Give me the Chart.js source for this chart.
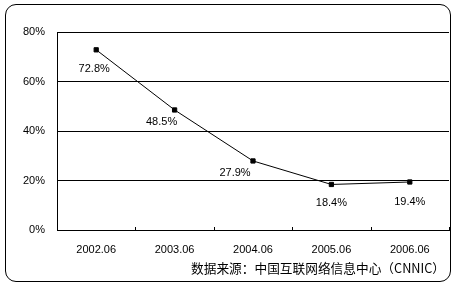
<!DOCTYPE html>
<html>
<head>
<meta charset="utf-8">
<script src="https://cdn.jsdelivr.net/npm/chart.js@4.4.0/dist/chart.umd.min.js"></script>
<style>
    body { margin: 0; background: #fff; }
    #wrap { position: relative; width: 457px; height: 288px; }
    #frame {
        position: absolute; left: 5px; top: 4px; width: 444px; height: 276px;
        border: 1px solid #000; border-radius: 11px;
    }
    #chart { position: absolute; left: 0; top: 0; }
    #source {
        position: absolute; right: 12px; top: 258px;
        font: 12.7px "Noto Sans CJK SC", sans-serif; color: #000; white-space: nowrap;
    }
</style>
</head>
<body>
<div id="wrap">
    <div id="frame"></div>
    <canvas id="chart" width="457" height="288"></canvas>
    <div id="source">数据来源：中国互联网络信息中心（CNNIC）</div>
</div>
<script>
const categories = ['2002.06', '2003.06', '2004.06', '2005.06', '2006.06'];
const shares = [72.8, 48.5, 27.9, 18.4, 19.4];
const yTicks = [0, 20, 40, 60, 80];

// label placement relative to each point (Excel put them a bit unevenly)
const labelShift = [[-2, 19], [-13, 12], [-18, 12], [0, 19], [0, 20]];

const tickFont = { family: 'Liberation Sans', size: 11 };

const valueLabels = {
    id: 'valueLabels',
    afterDatasetsDraw(chart) {
        const ctx = chart.ctx;
        const meta = chart.getDatasetMeta(0);
        ctx.save();
        ctx.font = '11px "Liberation Sans"';
        ctx.fillStyle = '#000';
        ctx.textAlign = 'center';
        ctx.textBaseline = 'middle';
        meta.data.forEach((pt, i) => {
            ctx.fillText(shares[i].toFixed(1) + '%', pt.x + labelShift[i][0], pt.y + labelShift[i][1]);
        });
        ctx.restore();
    }
};

// short tick marks pointing into the plot, between categories
const innerTicks = {
    id: 'innerTicks',
    afterDraw(chart) {
        const ctx = chart.ctx;
        const x = chart.scales.x;
        const bottom = chart.chartArea.bottom;
        ctx.save();
        ctx.strokeStyle = '#000';
        ctx.lineWidth = 1;
        for (let i = 1; i <= categories.length; i++) {
            const px = Math.round(x.getPixelForValue(i - 0.5)) + 0.5;
            ctx.beginPath();
            ctx.moveTo(px, bottom);
            ctx.lineTo(px, bottom - 3);
            ctx.stroke();
        }
        ctx.restore();
    }
};

new Chart(document.getElementById('chart'), {
    type: 'line',
    data: {
        labels: categories,
        datasets: [{
            data: shares,
            borderColor: '#000',
            borderWidth: 1,
            backgroundColor: '#000',
            pointStyle: 'rect',
            pointRadius: 3,
            pointHoverRadius: 3,
            tension: 0,
            fill: false
        }]
    },
    options: {
        responsive: false,
        animation: false,
        layout: { padding: { top: 32, right: 8, bottom: 0, left: 0 } },
        plugins: { legend: { display: false }, tooltip: { enabled: false } },
        scales: {
            x: {
                offset: true,
                grid: { display: false, drawTicks: false },
                border: { color: '#000', width: 1 },
                ticks: { color: '#000', font: tickFont, padding: 13, maxRotation: 0 },
                afterFit(scale) { scale.height = 58; }
            },
            y: {
                min: 0,
                max: 80,
                afterBuildTicks(scale) { scale.ticks = yTicks.map(v => ({ value: v })); },
                grid: { color: '#000', lineWidth: 1, drawTicks: false },
                border: { color: '#000', width: 1 },
                ticks: {
                    color: '#000',
                    font: tickFont,
                    padding: 12,
                    callback: v => v + '%'
                },
                afterFit(scale) { scale.width = 57; }
            }
        }
    },
    plugins: [valueLabels, innerTicks]
});
</script>
</body>
</html>
